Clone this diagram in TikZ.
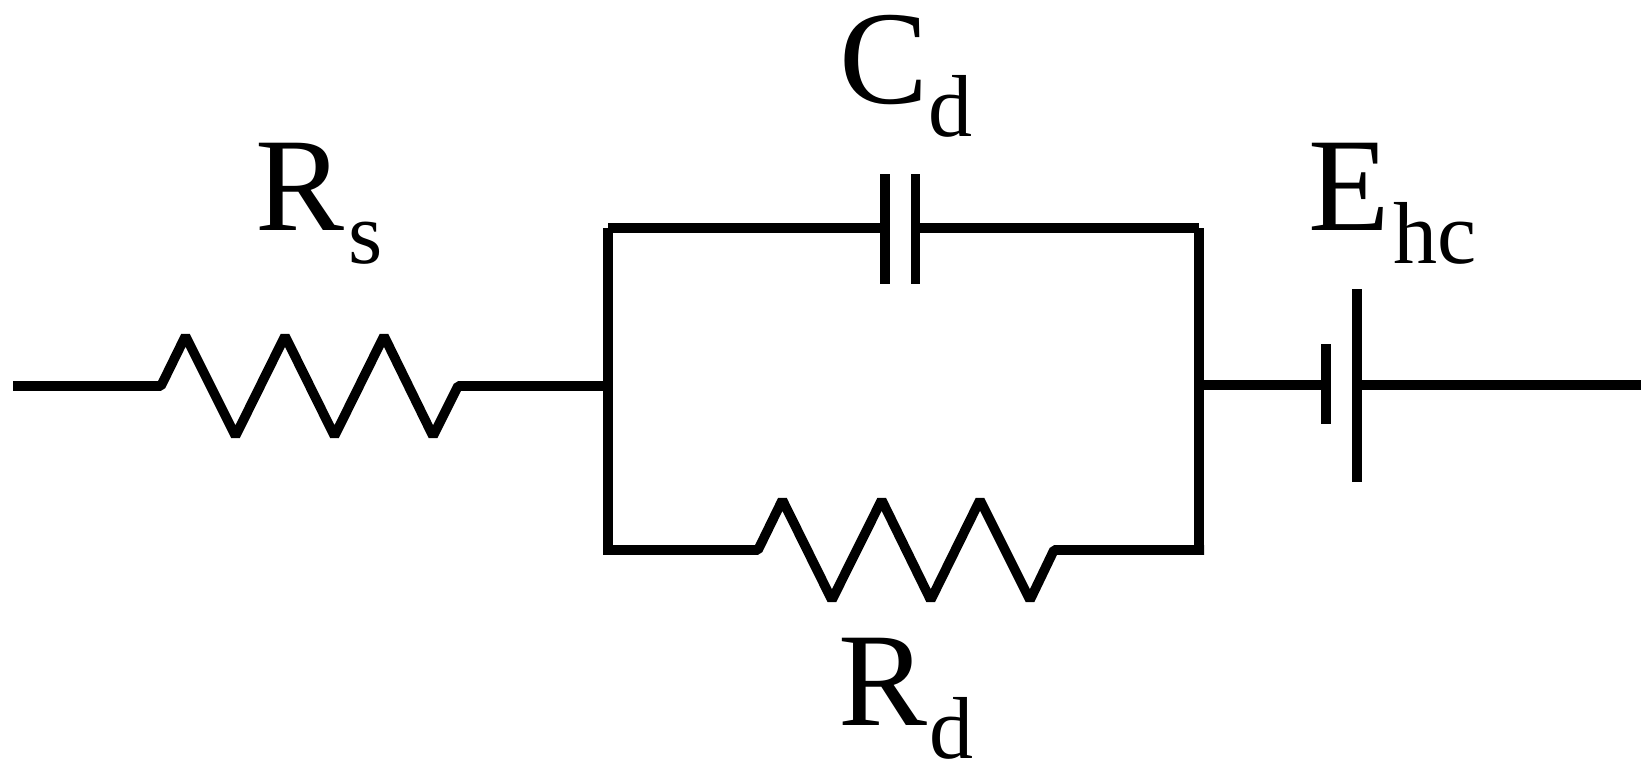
\documentclass[tikz,border=0pt]{standalone}
\usepackage{fontspec}
\setmainfont{Liberation Serif}
\tikzset{
  wire/.style={line width=7.2pt, line join=bevel},
  lab/.style={anchor=base west, inner sep=0pt}
}
\newcommand{\symb}[3][0pt]{{\fontsize{100}{110}\selectfont #2}\kern#1\raisebox{-25pt}{\fontsize{66}{70}\selectfont #3}}
\begin{document}
\begin{tikzpicture}[x=0.75pt, y=-0.75pt]
\useasboundingbox (0,0) rectangle (1652,772);
\coordinate (inL) at (13,386);
\coordinate (rsA) at (161,386);
\coordinate (rsB) at (458,386);
\coordinate (busT) at (608,228);
\coordinate (busM) at (608,386);
\coordinate (busB) at (608,555);
\coordinate (brT) at (1199,228);
\coordinate (brM) at (1199,385);
\coordinate (brB) at (1199,555);
\coordinate (botL) at (603,550);
\coordinate (rdA) at (758,550);
\coordinate (rdB) at (1054,550);
\coordinate (botR) at (1204,550);
\coordinate (outR) at (1641,385);
% series resistor
\draw[wire] (inL) -- (rsA) -- ++(24.5,-50)
  -- ++(50,100) -- ++(49.5,-100) -- ++(49.5,100) -- ++(49.5,-100) -- ++(49,100)
  -- (rsB) -- (busM);
% parallel branch
\draw[wire] (busT) -- (busB);
\draw[wire] (brT) -- (brB);
\draw[wire] (busT) -- (885,228);
\draw[wire] (915.6,228) -- (brT);
\foreach \x in {885,915.6} \draw[wire] (\x,174) -- (\x,284);
\draw[wire] (botL) -- (rdA) -- ++(24.4,-50)
  -- ++(49.5,100) -- ++(49.8,-100) -- ++(49,100) -- ++(49.3,-100) -- ++(50,100)
  -- (rdB) -- (botR);
% cell
\draw[wire] (brM) -- (1326,385);
\draw[wire] (1326,344) -- (1326,424);
\draw[wire] (1357,289) -- (1357,482);
\draw[wire] (1357,385) -- (outR);
% labels
\node[lab] (lblRs) at (255,230) {\symb[3.5pt]{R}{s}};
\node[lab] (lblCd) at (839,103) {\symb{C}{d}};
\node[lab] (lblEhc) at (1308,230) {\symb[2.5pt]{E}{hc}};
\node[lab] (lblRd) at (838,725) {\symb[1.5pt]{R}{d}};
\end{tikzpicture}
\end{document}
